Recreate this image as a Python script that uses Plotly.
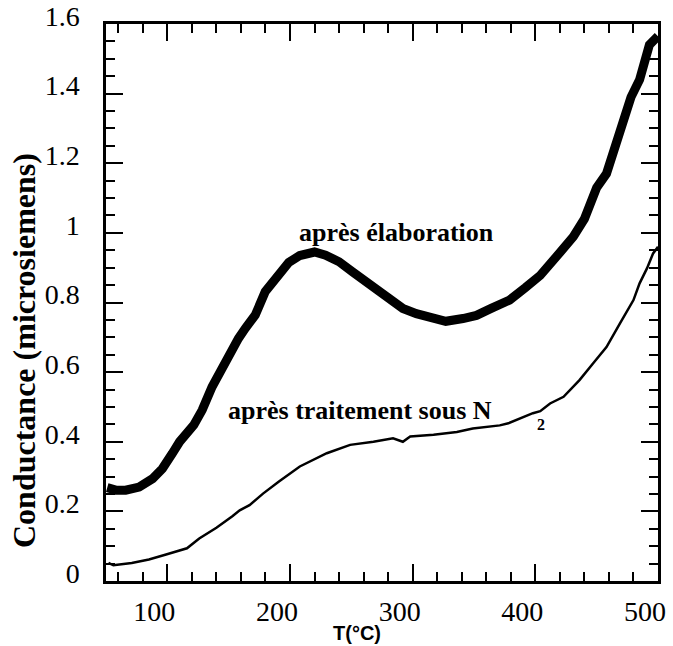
import plotly.graph_objects as go

# Data
t_elab = [51, 58, 66, 77, 88, 96, 104, 110, 121.6, 128.4, 136.5, 142, 150, 158, 163.6,
          171.7, 179.8, 190.6, 199, 208, 220, 229, 240, 251, 262, 273, 281, 292, 303,
          314, 327, 341, 352, 364, 379, 392, 404, 417, 431, 440, 445, 450, 458, 469,
          478, 485, 490, 493, 500]
g_elab = [0.268, 0.261, 0.261, 0.270, 0.294, 0.323, 0.366, 0.400, 0.448, 0.491, 0.558,
          0.597, 0.645, 0.697, 0.726, 0.764, 0.831, 0.874, 0.915, 0.935, 0.945, 0.936,
          0.917, 0.888, 0.859, 0.835, 0.807, 0.783, 0.768, 0.757, 0.746, 0.754, 0.763,
          0.783, 0.807, 0.843, 0.878, 0.931, 0.989, 1.040, 1.090, 1.130, 1.170, 1.290,
          1.390, 1.440, 1.510, 1.540, 1.565]

t_n2 = [52, 56, 71, 85, 99, 110, 116, 126, 140, 153, 159, 167, 178, 191, 208, 230, 249,
        268, 284, 292, 298, 317, 336, 349, 360, 371, 378, 387, 398, 404, 412, 423, 436,
        447, 458, 469, 480, 485, 491, 496, 500]
g_n2 = [0.052, 0.045, 0.052, 0.062, 0.076, 0.088, 0.094, 0.122, 0.153, 0.186, 0.203,
        0.218, 0.251, 0.286, 0.329, 0.367, 0.391, 0.400, 0.410, 0.400, 0.415, 0.420,
        0.428, 0.438, 0.443, 0.447, 0.453, 0.467, 0.482, 0.488, 0.510, 0.529, 0.577,
        0.625, 0.672, 0.740, 0.807, 0.855, 0.898, 0.941, 0.960]

x_tickvals = [100, 200, 300, 400, 500]
y_tickvals = [0, 0.2, 0.4, 0.6, 0.8, 1.0, 1.2, 1.4, 1.6]
y_ticktext = ["0", "0.2", "0.4", "0.6", "0.8", "1", "1.2", "1.4", "1.6"]

label_elab = "après élaboration"
label_n2 = "après traitement sous N"
label_sub = "2"
x_title = "T(°C)"
y_title = "Conductance (microsiemens)"

fig = go.Figure()
fig.add_trace(go.Scatter(x=t_elab, y=g_elab, mode="lines",
                         line=dict(color="black", width=9), showlegend=False))
fig.add_trace(go.Scatter(x=t_n2, y=g_n2, mode="lines",
                         line=dict(color="black", width=2.5), showlegend=False))

serif = "Liberation Serif, Times New Roman, serif"
axis_common = dict(
    showline=True, linecolor="black", linewidth=2.5, mirror="ticks",
    ticks="inside", ticklen=17, tickwidth=2, tickcolor="black",
    showgrid=False, zeroline=False, automargin=False,
    tickfont=dict(family=serif, size=28, color="black"),
)

fig.update_xaxes(range=[50, 500], tickvals=x_tickvals,
                 minor=dict(dtick=20, tick0=0, ticks="inside", ticklen=9,
                            tickwidth=2, tickcolor="black", showgrid=False),
                 ticklabelshift=-13, ticklabelstandoff=4, **axis_common)
fig.update_yaxes(range=[0, 1.6], tickvals=y_tickvals, ticktext=y_ticktext,
                 minor=dict(dtick=0.05, tick0=0, ticks="inside", ticklen=9,
                            tickwidth=2, tickcolor="black", showgrid=False),
                 ticklabelshift=-8, ticklabelstandoff=18, **axis_common)

fig.add_annotation(x=286.8, y=1.0, xref="x", yref="y", text=label_elab,
                   showarrow=False, font=dict(family=serif, size=26, color="black", weight="bold"))
fig.add_annotation(x=257.4, y=0.49, xref="x", yref="y", text=label_n2,
                   showarrow=False, font=dict(family=serif, size=26, color="black", weight="bold"))
fig.add_annotation(x=405, y=0.449, xref="x", yref="y", text=label_sub,
                   showarrow=False, font=dict(family=serif, size=16, color="black", weight="bold"))

fig.add_annotation(x=-0.1486, y=0.4147, xref="paper", yref="paper", text=y_title,
                   textangle=-90, showarrow=False, xanchor="center", yanchor="middle",
                   font=dict(family=serif, size=32, color="black", weight="bold"))
fig.add_annotation(x=0.4547, y=-0.0934, xref="paper", yref="paper", text=x_title,
                   showarrow=False, xanchor="center", yanchor="middle",
                   font=dict(family="Liberation Sans, Arial, sans-serif", size=20,
                             color="black", weight="bold"))

fig.update_layout(width=673, height=646, margin=dict(l=106, r=15, t=24, b=65),
                  paper_bgcolor="white", plot_bgcolor="white")

fig.write_html("out.html",
               config={"displayModeBar": False},
               post_script="document.body.style.margin='0px';"
                           "document.body.style.overflow='hidden';")
